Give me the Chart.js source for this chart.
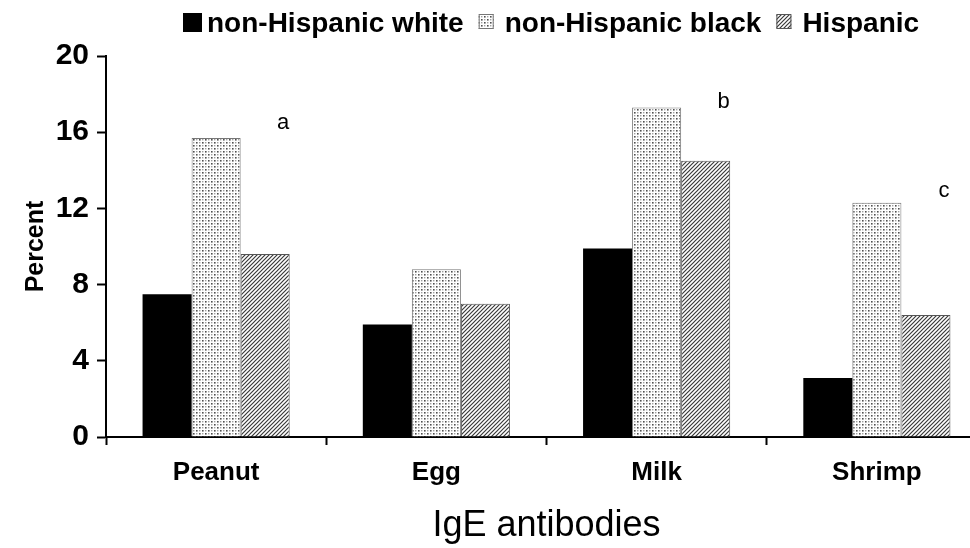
<!DOCTYPE html>
<html>
<head>
<meta charset="utf-8">
<script src="https://cdn.jsdelivr.net/npm/chart.js@4.4.0/dist/chart.umd.min.js"></script>
<style>
html, body { margin: 0; padding: 0; background: #fff; overflow: hidden; }
#wrap { width: 970px; height: 548px; overflow: hidden; }
</style>
</head>
<body>
<div id="wrap"><canvas id="chart" width="1000" height="548"></canvas></div>
<script>
// data
const categories = ['Peanut', 'Egg', 'Milk', 'Shrimp'];
const seriesNames = ['non-Hispanic white', 'non-Hispanic black', 'Hispanic'];
const whiteValues = [7.5, 5.9, 9.9, 3.1];
const blackValues = [15.7, 8.8, 17.3, 12.3];
const hispanicValues = [9.6, 7.0, 14.5, 6.4];
const yTicks = [0, 4, 8, 12, 16, 20];
const noteLabels = ['a', 'b', 'c'];
const noteCategories = ['Peanut', 'Milk', 'Shrimp'];
const noteValues = [16.5, 17.6, 12.9];

const FONT = 'Arial, "Liberation Sans", Helvetica, sans-serif';

// motifs de remplissage
function dotPattern() {
    const c = document.createElement('canvas');
    c.width = 6; c.height = 6;
    const g = c.getContext('2d');
    g.fillStyle = '#fff';
    g.fillRect(0, 0, 6, 6);
    g.fillStyle = '#505050';
    g.fillRect(1, 1, 1.6, 1.6);
    g.fillRect(4, 4, 1.6, 1.6);
    g.fillStyle = '#a0a0a0';
    g.fillRect(4, 1, 1.4, 1.4);
    g.fillRect(1, 4, 1.4, 1.4);
    return g.createPattern(c, 'repeat');
}

function hatchPattern() {
    const s = 4;
    const c = document.createElement('canvas');
    c.width = s; c.height = s;
    const g = c.getContext('2d');
    g.fillStyle = '#fff';
    g.fillRect(0, 0, s, s);
    g.strokeStyle = '#3a3a3a';
    g.lineWidth = 1.2;
    g.beginPath();
    g.moveTo(-1, s + 1); g.lineTo(s + 1, -1);
    g.moveTo(-1, 1); g.lineTo(1, -1);
    g.moveTo(s - 1, s + 1); g.lineTo(s + 1, s - 1);
    g.stroke();
    return g.createPattern(c, 'repeat');
}

const fills = ['#000', dotPattern(), hatchPattern()];
const borders = ['#000', '#777', '#555'];

// légende dessinée à la main en haut
const legendPlugin = {
    id: 'topLegend',
    afterDraw(chart) {
        const ctx = chart.ctx;
        ctx.save();
        ctx.font = 'bold 28px ' + FONT;
        ctx.textBaseline = 'alphabetic';
        let x = 183;
        seriesNames.forEach((name, i) => {
            const size = i === 0 ? 19 : 15;
            const top = i === 0 ? 13 : 14;
            ctx.fillStyle = fills[i];
            ctx.fillRect(x, top, size, size);
            if (i > 0) {
                ctx.strokeStyle = borders[i];
                ctx.lineWidth = 1;
                ctx.strokeRect(x + 0.5, top + 0.5, size - 1, size - 1);
            }
            x += size + (i === 0 ? 5 : 11);
            ctx.fillStyle = '#000';
            ctx.fillText(name, x, 32);
            x += ctx.measureText(name).width + 15;
        });
        ctx.restore();
    }
};

// lettres a, b, c au-dessus des groupes
const notesPlugin = {
    id: 'notes',
    afterDatasetsDraw(chart) {
        const ctx = chart.ctx;
        const meta = chart.getDatasetMeta(2);
        const yScale = chart.scales.y;
        ctx.save();
        ctx.font = '22px ' + FONT;
        ctx.fillStyle = '#000';
        ctx.textAlign = 'center';
        ctx.textBaseline = 'middle';
        noteLabels.forEach((label, i) => {
            const idx = categories.indexOf(noteCategories[i]);
            const bar = meta.data[idx];
            ctx.fillText(label, bar.x + 18, yScale.getPixelForValue(noteValues[i]));
        });
        ctx.restore();
    }
};

const ctx = document.getElementById('chart').getContext('2d');
new Chart(ctx, {
    type: 'bar',
    data: {
        labels: categories,
        datasets: [whiteValues, blackValues, hispanicValues].map((values, i) => ({
            label: seriesNames[i],
            data: values,
            backgroundColor: fills[i],
            borderColor: borders[i],
            borderWidth: i === 0 ? 0 : 1,
            categoryPercentage: 0.668,
            barPercentage: 1.0
        }))
    },
    options: {
        responsive: false,
        animation: false,
        devicePixelRatio: 1,
        layout: { padding: { top: 56, right: 13, bottom: 0, left: 0 } },
        plugins: {
            legend: { display: false },
            tooltip: { enabled: false }
        },
        scales: {
            x: {
                grid: {
                    offset: true,
                    drawOnChartArea: false,
                    drawTicks: true,
                    tickLength: 8,
                    tickWidth: 2,
                    color: '#000'
                },
                border: { color: '#000', width: 2 },
                ticks: {
                    color: '#000',
                    padding: 12,
                    font: { family: FONT, size: 26, weight: 'bold' }
                },
                title: {
                    display: true,
                    text: 'IgE antibodies',
                    color: '#000',
                    padding: { top: 0, bottom: 0 },
                    font: { family: FONT, size: 36, weight: 'normal' }
                },
                afterFit(scale) { scale.height = 111; }
            },
            y: {
                min: 0,
                max: 20,
                afterBuildTicks(scale) {
                    scale.ticks = yTicks.map(v => ({ value: v }));
                },
                grid: {
                    drawOnChartArea: false,
                    drawTicks: true,
                    tickLength: 9,
                    tickWidth: 2,
                    color: '#000'
                },
                border: { color: '#000', width: 2 },
                ticks: {
                    color: '#000',
                    padding: 8,
                    font: { family: FONT, size: 30, weight: 'bold' }
                },
                title: {
                    display: true,
                    text: 'Percent',
                    color: '#000',
                    padding: { top: 21, bottom: 0 },
                    font: { family: FONT, size: 25, weight: 'bold' }
                },
                afterFit(scale) { scale.width = 106; }
            }
        }
    },
    plugins: [legendPlugin, notesPlugin]
});
</script>
</body>
</html>
